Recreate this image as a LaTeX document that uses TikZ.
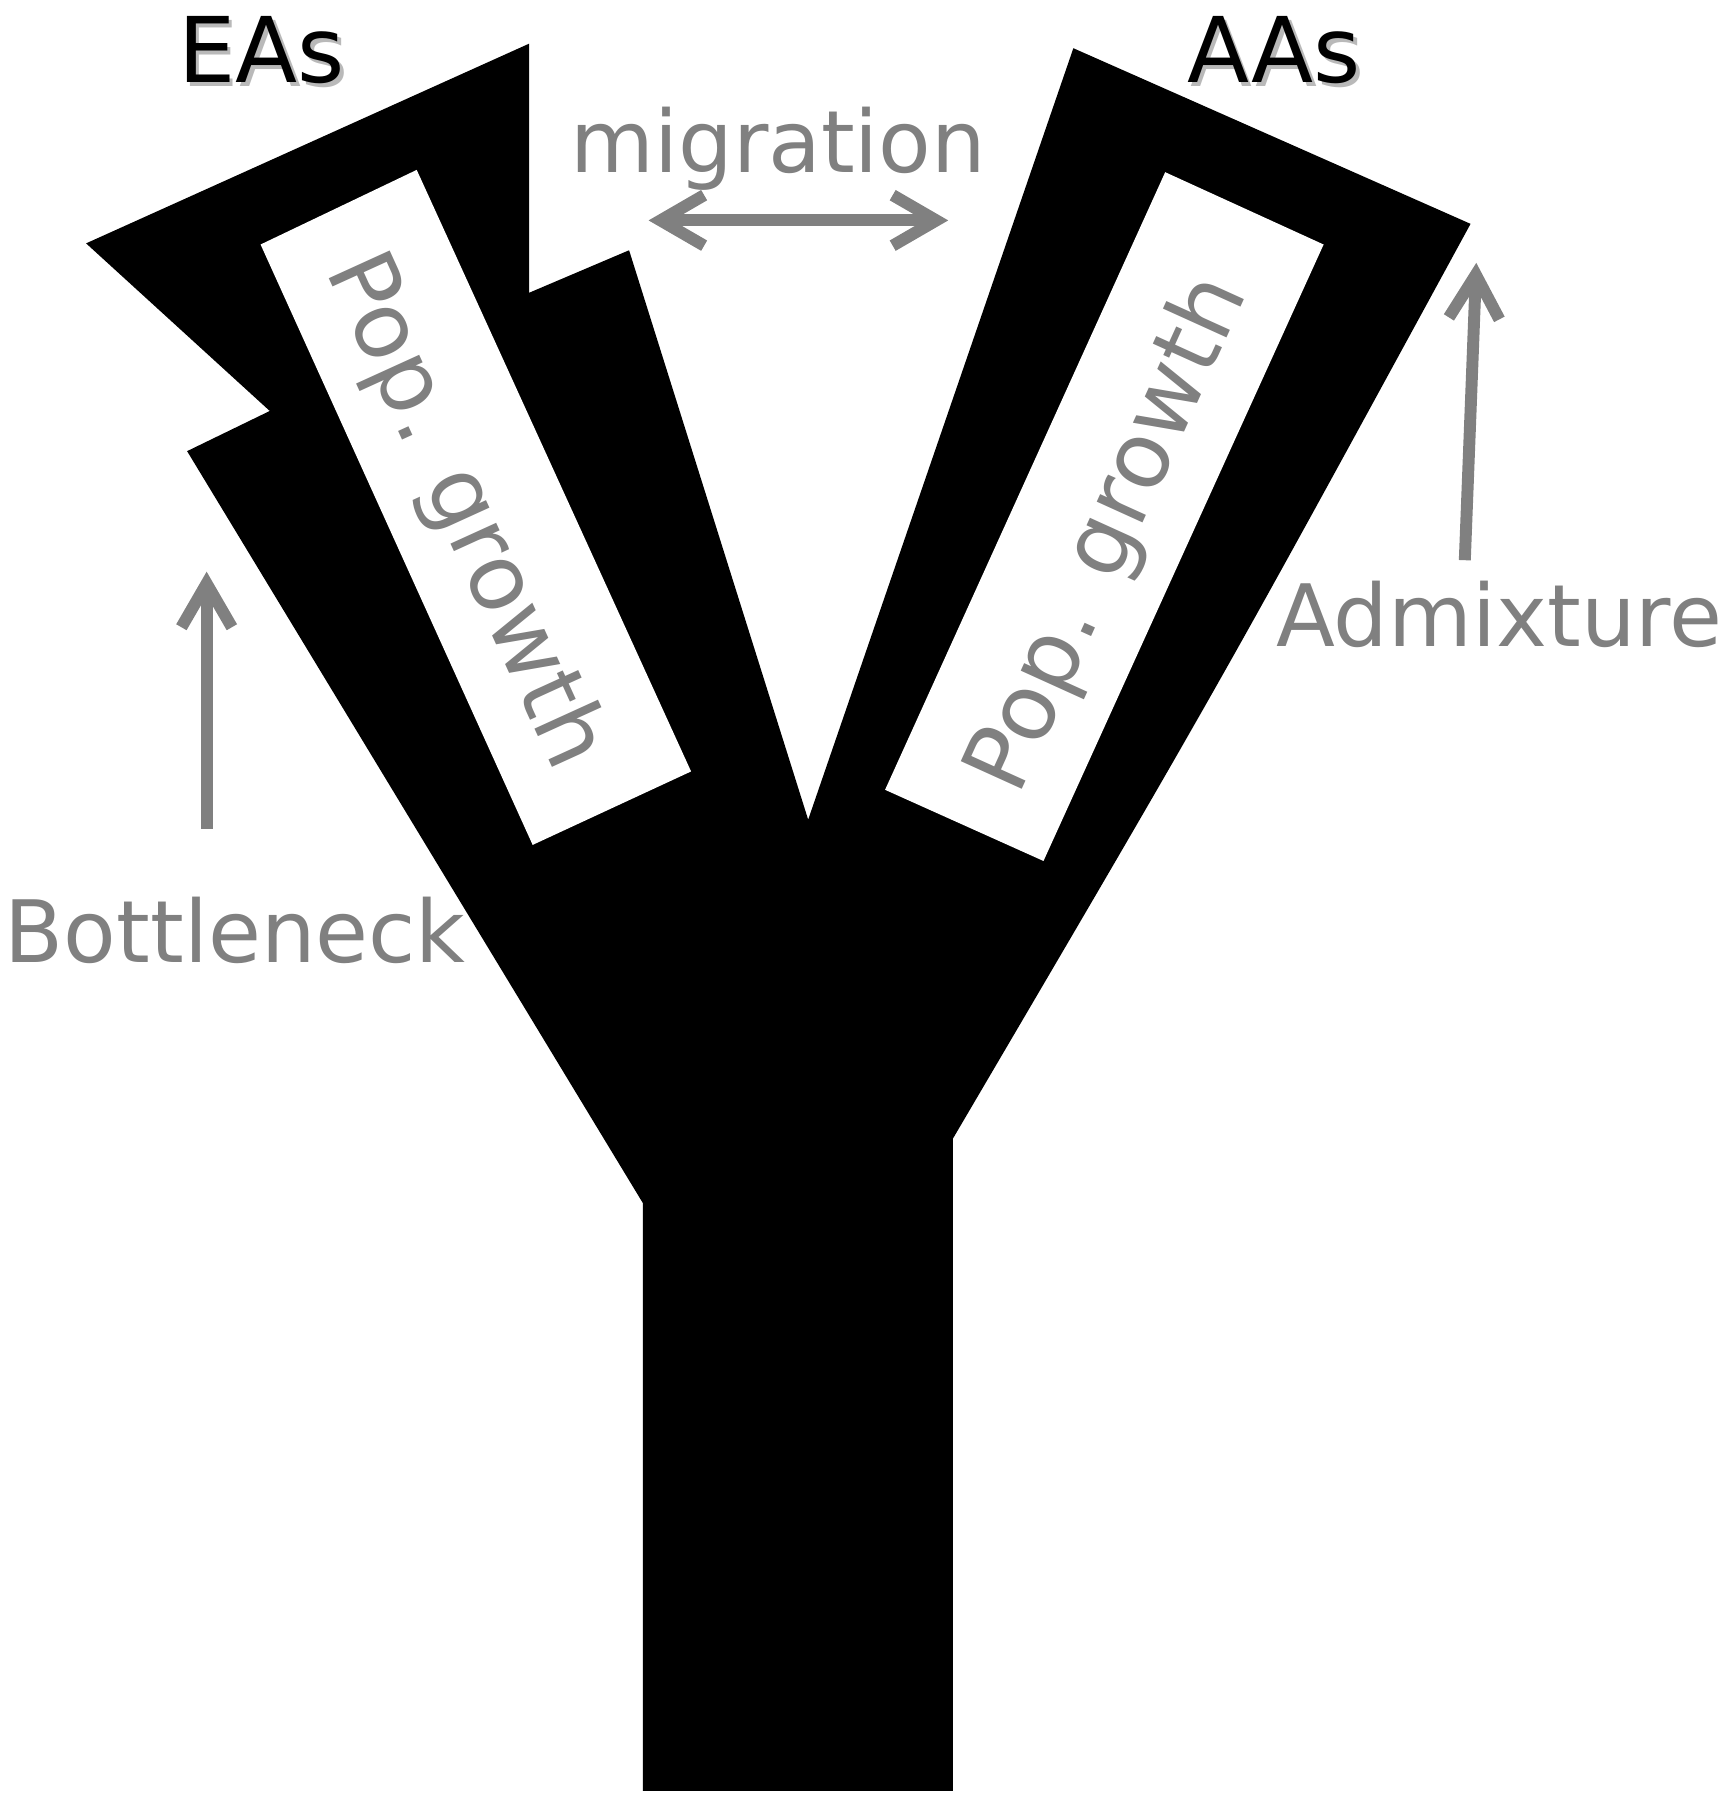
\documentclass[tikz,border=0pt]{standalone}
\usepackage{fontspec}
\setmainfont{DejaVu Sans}
\usetikzlibrary{arrows.meta}
\definecolor{labelgray}{RGB}{128,128,128}
\definecolor{shadowgray}{RGB}{185,185,185}
\tikzset{graybarb/.tip={Straight Barb[length=19pt,width=22pt,line width=5.2pt]}}
\begin{document}
\begin{tikzpicture}[x=0.5pt,y=-0.5pt,
  graylabel/.style={text=labelgray,font=\fontsize{37.5}{40}\selectfont,inner sep=0pt,anchor=base},
  poplabel/.style={text=labelgray,font=\fontsize{40}{42}\selectfont,inner sep=0pt},
  grouplabel/.style={text=black,font=\fontsize{39.5}{42}\selectfont,inner sep=0pt,anchor=base},
  shadowlabel/.style={text=shadowgray,font=\fontsize{39.5}{42}\selectfont,inner sep=0pt,anchor=base},
  grayarrow/.style={draw=labelgray,line width=5.2pt,arrows={-graybarb}},
  grayarrows/.style={draw=labelgray,line width=5.2pt,arrows={graybarb-graybarb}}
]
\useasboundingbox (0,0) rectangle (1509,1568);
% tree body
\fill[black] (560,1560) -- (560,1048) -- (163,393) -- (235,358) -- (75,212)
  -- (461,38) -- (461,255) -- (548,218) -- (704,714) -- (935,42)
  -- (1281,195) .. controls (1062,597) .. (830,992) -- (830,1560) -- cycle;
% white boxes
\fill[white] (227,213) -- (363,148) -- (602,672) -- (464,736) -- cycle;
\fill[white] (1015,150) -- (1153,213) -- (909,750) -- (771,688) -- cycle;
\node[poplabel,rotate=-65.5] (popE) at (404,446) {Pop. growth};
\node[poplabel,rotate=65.6] (popA) at (967,466) {Pop. growth};
% group labels
\node[shadowlabel] at (231,75) {EAs};
\node[grouplabel] (EAs) at (228,72) {EAs};
\node[shadowlabel] at (1113,75) {AAs};
\node[grouplabel] (AAs) at (1110,72) {AAs};
% gray labels
\node[graylabel] (mig) at (678,150) {migration};
\node[graylabel] (bott) at (205,838) {Bottleneck};
\node[graylabel] (admx) at (1306,563) {Admixture};
% arrows
\coordinate (migL) at (565,192);
\coordinate (migR) at (826,192);
\coordinate (botS) at (180,722);
\coordinate (botE) at (180,498);
\coordinate (admS) at (1276,488);
\coordinate (admE) at (1286,229);
\draw[grayarrows] (migL) -- (migR);
\draw[grayarrow] (botS) -- (botE);
\draw[grayarrow] (admS) -- (admE);
\end{tikzpicture}
\end{document}
